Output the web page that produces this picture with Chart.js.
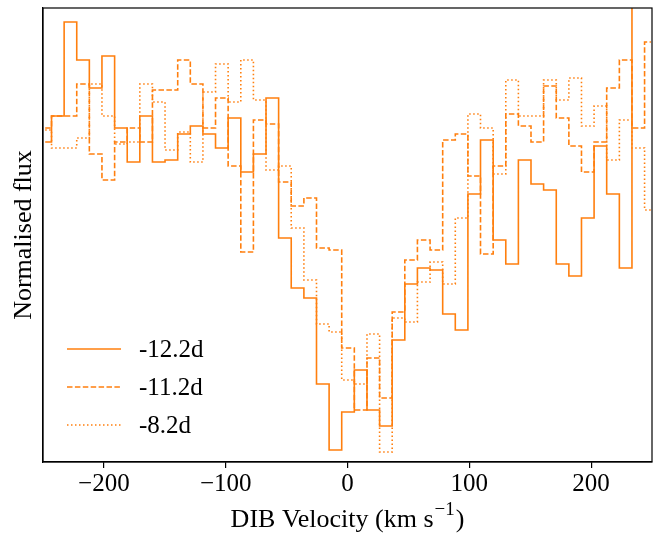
<!DOCTYPE html>
<html>
<head>
<meta charset="utf-8">
<script src="https://cdn.jsdelivr.net/npm/chart.js@4.4.1/dist/chart.umd.min.js"></script>
<style>
  html, body { margin: 0; padding: 0; background: #fff; }
  #wrap { width: 659px; height: 533px; position: relative; }
</style>
</head>
<body>
<div id="wrap"><canvas id="dibChart"></canvas></div>
<script>
// bin centres (km/s)
const velocity = [
  -248.2, -237.8, -227.5, -217.1, -206.8, -196.4, -186.0, -175.7, -165.3, -155.0,
  -144.6, -134.2, -123.9, -113.5, -103.2, -92.8, -82.4, -72.1, -61.7, -51.4,
  -41.0, -30.6, -20.3, -9.9, 0.4, 10.8, 21.2, 31.5, 41.9, 52.2,
  62.6, 73.0, 83.3, 93.7, 104.0, 114.4, 124.8, 135.1, 145.5, 155.8,
  166.2, 176.6, 186.9, 197.3, 207.6, 218.0, 228.4, 238.7, 249.1
];

const flux_12_2 = [
  0.999, 1.012, 1.059, 1.040, 1.026, 1.042, 1.006, 0.989, 1.012, 0.989,
  0.990, 1.003, 1.007, 1.003, 0.996, 1.011, 0.984, 0.993, 1.021, 0.951,
  0.926, 0.921, 0.878, 0.845, 0.864, 0.885, 0.865, 0.857, 0.900, 0.928,
  0.936, 0.935, 0.913, 0.905, 0.973, 1.000, 0.950, 0.938, 0.990, 0.978,
  0.975, 0.938, 0.932, 0.961, 0.997, 0.973, 0.936, 1.090, 1.085
];

const flux_11_2 = [
  1.006, 1.012, 1.012, 1.028, 0.993, 0.980, 0.999, 1.006, 0.999, 1.025,
  1.025, 1.040, 1.028, 1.006, 1.021, 0.987, 0.944, 1.010, 1.008, 0.979,
  0.967, 0.971, 0.946, 0.945, 0.896, 0.865, 0.891, 0.871, 0.914, 0.940,
  0.950, 0.945, 1.000, 1.003, 0.982, 0.943, 0.987, 1.013, 1.007, 0.999,
  1.027, 1.011, 0.997, 0.984, 0.999, 1.026, 1.040, 1.006, 1.049
];

const flux_8_2 = [
  1.005, 0.996, 0.996, 1.001, 1.028, 1.012, 0.998, 0.999, 1.028, 1.019,
  0.995, 1.004, 0.989, 1.024, 1.038, 1.019, 1.040, 1.020, 0.985, 0.987,
  0.956, 0.930, 0.908, 0.904, 0.880, 0.878, 0.903, 0.844, 0.911, 0.909,
  0.929, 0.939, 0.928, 0.961, 1.013, 1.006, 0.983, 1.030, 1.012, 1.012,
  1.030, 1.020, 1.031, 1.007, 1.017, 0.990, 1.010, 0.996, 0.965
];

const seriesLabels = ['-12.2d', '-11.2d', '-8.2d'];
const xTicks = [-200, -100, 0, 100, 200];

const ORANGE = '#ff7f0e';
const SERIF = '"Liberation Serif", "Times New Roman", serif';
const FS = 25;
const dashes = [[], [5.5, 2.4], [1.5, 2.5]];

const pts = ys => velocity.map((v, i) => ({ x: v, y: ys[i] }));

// full box around the axes
const boxPlugin = {
  id: 'box',
  afterDraw(chart) {
    const a = chart.chartArea, ctx = chart.ctx;
    ctx.save();
    ctx.strokeStyle = '#000';
    ctx.lineWidth = 1.2;
    ctx.strokeRect(a.left, a.top, a.right - a.left, a.bottom - a.top);
    ctx.restore();
  }
};

// legend drawn inside the axes, lower left
const legendPlugin = {
  id: 'innerLegend',
  afterDraw(chart) {
    const ctx = chart.ctx;
    ctx.save();
    seriesLabels.forEach((lab, i) => {
      const y = 349 + i * 38;
      ctx.strokeStyle = ORANGE;
      ctx.lineWidth = 1.6;
      ctx.setLineDash(dashes[i]);
      ctx.beginPath();
      ctx.moveTo(67, y);
      ctx.lineTo(121, y);
      ctx.stroke();
      ctx.setLineDash([]);
      ctx.fillStyle = '#000';
      ctx.font = FS + 'px ' + SERIF;
      ctx.textBaseline = 'middle';
      ctx.fillText(lab, 139, y + 1);
    });
    ctx.restore();
  }
};

// x title with a real superscript
const xTitlePlugin = {
  id: 'xTitle',
  afterDraw(chart) {
    const ctx = chart.ctx, a = chart.chartArea;
    const main = 'DIB Velocity (km s', sup = '\u22121', close = ')';
    ctx.save();
    ctx.fillStyle = '#000';
    ctx.textBaseline = 'alphabetic';
    ctx.font = '26px ' + SERIF;
    const w1 = ctx.measureText(main).width, w3 = ctx.measureText(close).width;
    ctx.font = '19px ' + SERIF;
    const w2 = ctx.measureText(sup).width;
    let x = (a.left + a.right) / 2 - (w1 + w2 + w3 + 2) / 2;
    const base = 527;
    ctx.font = '26px ' + SERIF;
    ctx.fillText(main, x, base);
    x += w1 + 1;
    ctx.font = '19px ' + SERIF;
    ctx.fillText(sup, x, base - 12);
    x += w2 + 1;
    ctx.font = '26px ' + SERIF;
    ctx.fillText(close, x, base);
    ctx.restore();
  }
};

new Chart(document.getElementById('dibChart'), {
  type: 'line',
  data: {
    datasets: [flux_12_2, flux_11_2, flux_8_2].map((ys, i) => ({
      label: seriesLabels[i],
      data: pts(ys),
      borderColor: ORANGE,
      borderWidth: 1.6,
      borderDash: dashes[i],
      stepped: 'middle',
      pointRadius: 0,
      fill: false
    }))
  },
  options: {
    responsive: true,
    maintainAspectRatio: false,
    animation: false,
    layout: { padding: { top: 8, right: 7, left: 0, bottom: 0 } },
    plugins: { legend: { display: false }, tooltip: { enabled: false } },
    scales: {
      x: {
        type: 'linear',
        min: -250,
        max: 250,
        afterBuildTicks: s => { s.ticks = xTicks.map(v => ({ value: v })); },
        afterFit: s => { s.height = 71; },
        ticks: {
          color: '#000',
          font: { family: SERIF, size: FS },
          padding: 1,
          maxRotation: 0,
          callback: v => (v < 0 ? '\u2212' + Math.abs(v) : String(v))
        },
        grid: { drawOnChartArea: false, drawTicks: true, tickLength: 6, color: '#000', lineWidth: 1.2 },
        border: { display: true, color: '#000', width: 1.2 },
        title: { display: false }
      },
      y: {
        min: 0.839,
        max: 1.066,
        afterFit: s => { s.width = 43; },
        ticks: { display: false },
        grid: { display: false },
        border: { display: true, color: '#000', width: 1.2 },
        title: {
          display: true,
          text: 'Normalised flux',
          color: '#000',
          font: { family: SERIF, size: 26 },
          padding: { top: 9, bottom: 0 }
        }
      }
    }
  },
  plugins: [boxPlugin, legendPlugin, xTitlePlugin]
});
</script>
</body>
</html>
